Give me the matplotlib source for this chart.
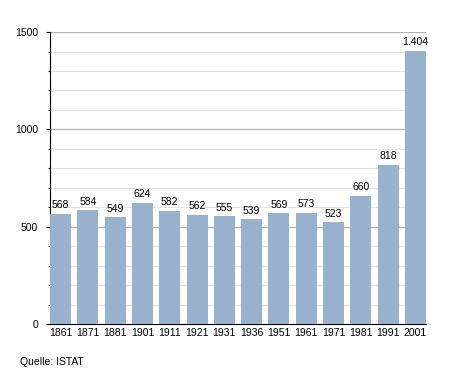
import numpy as np
import matplotlib.pyplot as plt
from matplotlib.ticker import MultipleLocator

years = ['1861', '1871', '1881', '1901', '1911', '1921', '1931',
         '1936', '1951', '1961', '1971', '1981', '1991', '2001']
population = [568, 584, 549, 624, 582, 562, 555, 539, 569, 573, 523, 660, 818, 1404]

fig = plt.figure(figsize=(4.55, 3.73), dpi=100)
ax = fig.add_axes([0.11, 0.131, 0.826, 0.783])

x = np.arange(len(years))
ax.bar(x, population, width=0.77, color='#98b1cd', zorder=3)

for xi, v in zip(x, population):
    label = f'{v:,}'.replace(',', '.')
    ax.annotate(label, (xi, v), xytext=(0, 2.5), textcoords='offset points',
                ha='center', va='bottom', fontsize=7.5,
                family='Liberation Sans', zorder=4)

ax.set_ylim(0, 1500)
ax.set_xlim(-0.385, len(years) - 0.615)
ax.yaxis.set_major_locator(MultipleLocator(500))
ax.yaxis.set_minor_locator(MultipleLocator(100))
ax.grid(axis='y', which='major', color='#b0b0b0', linewidth=0.9, zorder=1)
ax.grid(axis='y', which='minor', color='#e2e2e2', linewidth=0.8, zorder=1)

ax.set_xticks(x)
ax.set_xticklabels(years)
for lbl in ax.get_xticklabels() + ax.get_yticklabels():
    lbl.set_family('Liberation Sans')
    lbl.set_fontsize(7.5)

ax.tick_params(axis='x', length=0, pad=2.5)
ax.tick_params(axis='y', which='major', length=3.2, width=0.8, direction='out', pad=5.5)
ax.tick_params(axis='y', which='minor', length=1.6, width=0.8, direction='out')

for side in ['top', 'right']:
    ax.spines[side].set_visible(False)
ax.spines['left'].set_color('black')
ax.spines['bottom'].set_color('black')

fig.text(20 / 455, 1 - 362 / 373, 'Quelle: ISTAT', fontsize=7.5,
         family='Liberation Sans', va='center', ha='left')

fig.savefig('out.png', dpi=100)
